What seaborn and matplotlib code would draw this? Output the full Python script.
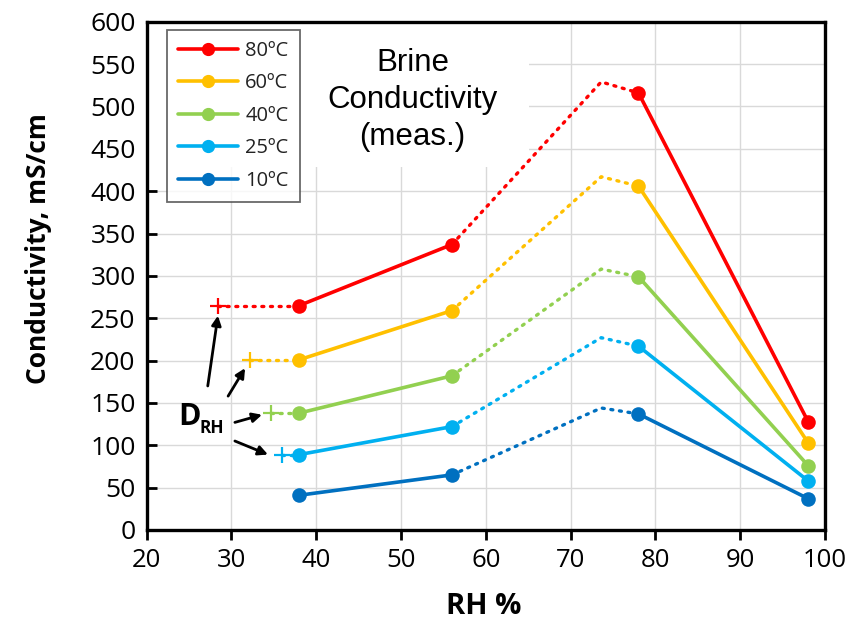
import pandas as pd
import matplotlib
matplotlib.use("Agg")
import matplotlib.pyplot as plt
import seaborn as sns
from matplotlib.lines import Line2D
from matplotlib.patches import Rectangle

# === datos ===
etiquetas = ["80ºC", "60ºC", "40ºC", "25ºC", "10ºC"]
colores = ["#FF0000", "#FFC000", "#92D050", "#00B0F0", "#0070C0"]

rh_med = [38, 56, 78, 98]
cond_80 = [265, 337, 516, 128]
cond_60 = [201, 259, 406, 103]
cond_40 = [138, 182, 299, 76]
cond_25 = [89, 122, 217, 58]
cond_10 = [41, 65, 137, 37]
medidas = [cond_80, cond_60, cond_40, cond_25, cond_10]

# punto D_RH (cruz) para cada serie, None si no hay
drh_x = [28.4, 32.2, 34.7, 35.9, None]

# maximo extrapolado (linea punteada)
pico_x = 73.6
pico_y = [529, 417, 308, 227, 144]

sns.set_style("white")
plt.rcParams["font.family"] = ["Open Sans", "DejaVu Sans"]
plt.rcParams["text.color"] = "black"

fig = plt.figure(figsize=(8.63, 6.22), dpi=100)
ax = fig.add_axes([0.170, 0.148, 0.786, 0.817])

for i, vals in enumerate(medidas):
    c = colores[i]
    # tramos medidos (linea continua)
    for a, b in [(0, 1), (2, 3)]:
        seg = pd.DataFrame({"rh": [rh_med[a], rh_med[b]], "k": [vals[a], vals[b]]})
        sns.lineplot(data=seg, x="rh", y="k", ax=ax, color=c, lw=2.6, sort=False, zorder=3)
    # tramo extrapolado (punteado)
    dot = pd.DataFrame({"rh": [rh_med[1], pico_x, rh_med[2]], "k": [vals[1], pico_y[i], vals[2]]})
    sns.lineplot(data=dot, x="rh", y="k", ax=ax, color=c, lw=2.4, sort=False,
                 linestyle=(0, (0.6, 2.0)), dash_capstyle="round", zorder=2)
    if drh_x[i] is not None:
        d = pd.DataFrame({"rh": [drh_x[i], rh_med[0]], "k": [vals[0], vals[0]]})
        sns.lineplot(data=d, x="rh", y="k", ax=ax, color=c, lw=2.4, sort=False,
                     linestyle=(0, (0.6, 2.0)), dash_capstyle="round", zorder=2)
        sns.scatterplot(x=[drh_x[i]], y=[vals[0]], ax=ax, marker="+", s=140,
                        color=c, linewidth=1.6, zorder=4)
    sns.scatterplot(x=rh_med, y=vals, ax=ax, color=c, s=110, edgecolor=c,
                    linewidth=0, zorder=5)

ax.set_xlim(20, 100)
ax.set_ylim(0, 600)
ax.set_xticks(range(20, 101, 10))
ax.set_yticks(range(0, 601, 50))
ax.grid(True, color="#d9d9d9", lw=1)
ax.set_axisbelow(True)
for s in ax.spines.values():
    s.set_color("black")
    s.set_linewidth(2.4)
ax.tick_params(axis="x", direction="out", length=7, width=2, labelsize=18.5, pad=6,
               labelcolor="black", color="black")
ax.tick_params(axis="y", direction="in", length=7, width=2, labelsize=19, pad=8,
               labelcolor="black", color="black")
ax.tick_params(left=True, bottom=True)

ax.set_xlabel("RH %", fontsize=21, fontweight="bold", color="black")
ax.set_ylabel("Conductivity, mS/cm", fontsize=19, fontweight="bold", color="black")
ax.xaxis.set_label_coords(0.497, -0.122)
ax.yaxis.set_label_coords(-0.140, 0.553)

# recuadro blanco del titulo interno (tapa la grilla)
ax.add_patch(Rectangle((0.004, 0.715), 0.56, 0.285, transform=ax.transAxes,
                       facecolor="white", edgecolor="none", zorder=1.5))
ax.text(0.392, 0.846, "Brine\nConductivity\n(meas.)", transform=ax.transAxes,
        ha="center", va="center", fontsize=22.5, family="Liberation Sans",
        linespacing=1.3, zorder=6)

# leyenda
handles = [Line2D([0], [0], color=colores[i], lw=2.6, marker="o", markersize=8.5,
                  label=etiquetas[i]) for i in range(5)]
leg = ax.legend(handles=handles, loc="upper left", bbox_to_anchor=(0.0295, 0.984),
                borderaxespad=0, fontsize=14.5, frameon=True, fancybox=False,
                handlelength=3.0, labelspacing=0.62, borderpad=0.55,
                handletextpad=0.35)
leg.get_frame().set_edgecolor("#444444")
leg.get_frame().set_linewidth(1.3)
leg.set_zorder(7)
for t in leg.get_texts():
    t.set_color("#222222")

# anotacion D_RH con flechas
ax.text(25.1, 133, "D", fontsize=22, fontweight="bold", ha="center", va="center", zorder=6)
ax.text(27.7, 120, "RH", fontsize=12.5, fontweight="bold", ha="center", va="center", zorder=6)
flechas = [((27.2, 170), (28.4, 253)),
           ((29.6, 158), (31.6, 191)),
           ((30.4, 127), (33.6, 136)),
           ((30.4, 105), (34.3, 89))]
for cola, punta in flechas:
    ax.annotate("", xy=punta, xytext=cola,
                arrowprops=dict(arrowstyle="-|>", color="black", lw=2.0,
                                mutation_scale=14, shrinkA=0, shrinkB=0), zorder=6)

fig.savefig("out.png", dpi=100)
